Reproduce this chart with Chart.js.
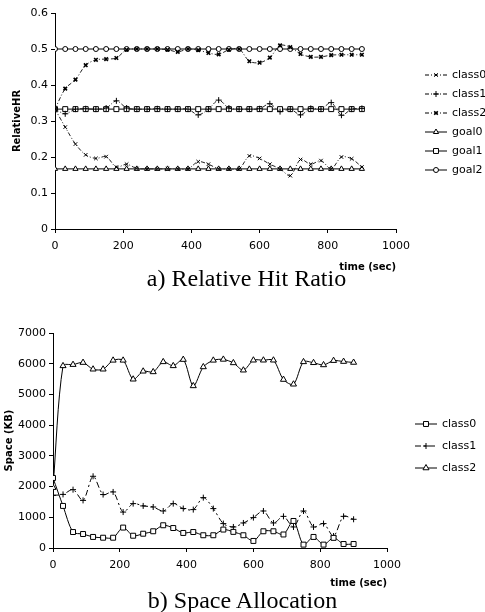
<!DOCTYPE html>
<html>
<head>
<meta charset="utf-8">
<script src="https://cdn.jsdelivr.net/npm/chart.js@4/dist/chart.umd.min.js"></script>
<style>
  body { margin: 0; background: #fff; width: 485px; height: 612px; position: relative; overflow: hidden; }
  canvas { position: absolute; left: 0; }
  .cap { position: absolute; left: 0; width: 485px; text-align: center; color: #000;
         font-family: "Liberation Serif", "Times New Roman", serif; font-size: 24px; line-height: 24px; }
</style>
</head>
<body>
<canvas id="hitChart" width="485" height="275" style="top:0"></canvas>
<div class="cap" style="top:266px; padding-left:4px">a) Relative Hit Ratio</div>
<canvas id="spaceChart" width="485" height="291" style="top:300px"></canvas>
<div class="cap" style="top:588px">b) Space Allocation</div>

<script>
// sampling times (sec), shared by both charts
const times = [0, 30, 60, 90, 120, 150, 180, 210, 240, 270, 300, 330, 360, 390, 420, 450,
  480, 510, 540, 570, 600, 630, 660, 690, 720, 750, 780, 810, 840, 870, 900];

// a) relative hit ratio
const hitClass0 = [0.333, 0.283, 0.236, 0.206, 0.196, 0.201, 0.172, 0.180, 0.168, 0.167, 0.167,
  0.167, 0.167, 0.167, 0.187, 0.180, 0.167, 0.167, 0.167, 0.203, 0.196, 0.180, 0.167, 0.148,
  0.193, 0.180, 0.190, 0.167, 0.200, 0.195, 0.172];
const hitClass1 = [0.333, 0.320, 0.333, 0.334, 0.333, 0.336, 0.356, 0.336, 0.333, 0.333, 0.334,
  0.333, 0.333, 0.333, 0.317, 0.333, 0.358, 0.336, 0.333, 0.333, 0.334, 0.348, 0.326, 0.333,
  0.317, 0.335, 0.333, 0.351, 0.316, 0.333, 0.335];
const hitClass2 = [0.333, 0.390, 0.415, 0.455, 0.470, 0.472, 0.475, 0.498, 0.500, 0.500, 0.500,
  0.498, 0.492, 0.500, 0.497, 0.489, 0.485, 0.498, 0.500, 0.466, 0.462, 0.476, 0.510, 0.505,
  0.486, 0.478, 0.478, 0.483, 0.484, 0.484, 0.484];
const hitGoal0 = [0.167, 0.167, 0.167, 0.167, 0.167, 0.167, 0.167, 0.167, 0.167, 0.167, 0.167,
  0.167, 0.167, 0.167, 0.167, 0.167, 0.167, 0.167, 0.167, 0.167, 0.167, 0.167, 0.167, 0.167,
  0.167, 0.167, 0.167, 0.167, 0.167, 0.167, 0.167];
const hitGoal1 = [0.333, 0.333, 0.333, 0.333, 0.333, 0.333, 0.333, 0.333, 0.333, 0.333, 0.333,
  0.333, 0.333, 0.333, 0.333, 0.333, 0.333, 0.333, 0.333, 0.333, 0.333, 0.333, 0.333, 0.333,
  0.333, 0.333, 0.333, 0.333, 0.333, 0.333, 0.333];
const hitGoal2 = [0.5, 0.5, 0.5, 0.5, 0.5, 0.5, 0.5, 0.5, 0.5, 0.5, 0.5, 0.5, 0.5, 0.5, 0.5, 0.5,
  0.5, 0.5, 0.5, 0.5, 0.5, 0.5, 0.5, 0.5, 0.5, 0.5, 0.5, 0.5, 0.5, 0.5, 0.5];

// b) space allocation (KB)
const spaceClass0 = [2280, 1370, 520, 455, 360, 335, 335, 665, 400, 465, 545, 740, 650, 490, 520,
  415, 415, 600, 525, 415, 230, 545, 545, 440, 880, 110, 360, 110, 330, 130, 130];
const spaceClass1 = [1715, 1745, 1900, 1550, 2335, 1740, 1825, 1170, 1445, 1370, 1335, 1205, 1445,
  1285, 1250, 1640, 1283, 795, 685, 815, 990, 1205, 815, 1030, 685, 1205, 685, 795, 390, 1030, 935];
const spaceClass2 = [1965, 5930, 5970, 6037, 5820, 5820, 6110, 6110, 5494, 5754, 5733, 6060, 5930,
  6135, 5277, 5895, 6110, 6140, 6026, 5788, 6113, 6113, 6113, 5485, 5331, 6060, 6030, 5960, 6100,
  6070, 6040];

const FONT = '"DejaVu Sans", sans-serif';

function pts(arr) {
  return times.map((t, i) => ({ x: t, y: arr[i] }));
}

function serie(label, arr, style, radius, dash, extra) {
  return Object.assign({
    label: label,
    data: pts(arr),
    borderColor: '#000',
    borderWidth: 1,
    borderDash: dash,
    pointStyle: style,
    pointRadius: radius,
    pointBorderWidth: 1,
    pointBorderColor: '#000',
    pointBackgroundColor: '#fff',
    tension: 0.3,
    fill: false
  }, extra || {});
}

// legend drawn as "line + marker + label", like the original
const lineLegend = {
  id: 'lineLegend',
  afterDraw(chart, args, opts) {
    const ctx = chart.ctx;
    ctx.save();
    chart.data.datasets.forEach((ds, i) => {
      const x = opts.x, y = opts.y + i * opts.gap;
      ctx.strokeStyle = '#000';
      ctx.lineWidth = 1;
      ctx.setLineDash(ds.borderDash || []);
      ctx.beginPath();
      ctx.moveTo(x, y);
      ctx.lineTo(x + 22, y);
      ctx.stroke();
      ctx.setLineDash([]);
      ctx.fillStyle = '#fff';
      ctx.lineWidth = ds.pointBorderWidth;
      Chart.helpers.drawPoint(ctx, {
        pointStyle: ds.pointStyle, radius: ds.pointRadius, rotation: 0, borderWidth: ds.pointBorderWidth
      }, x + 11, y);
      ctx.fillStyle = '#000';
      ctx.font = '11px ' + FONT;
      ctx.textBaseline = 'middle';
      ctx.textAlign = 'left';
      ctx.fillText(ds.label, x + 27, y);
    });
    ctx.restore();
  }
};

function axes(yMax, yStep, yDigits, yTitle, yWidth, yTitlePad, xHeight) {
  const tickFont = { family: FONT, size: 11 };
  return {
    x: {
      type: 'linear', min: 0, max: 1000,
      ticks: { stepSize: 200, font: tickFont, color: '#000', padding: 7, callback: v => String(v) },
      grid: { drawOnChartArea: false, drawTicks: true, tickLength: 4, color: '#000' },
      border: { color: '#000', width: 1 },
      title: { display: true, text: 'time (sec)', align: 'end', color: '#000',
               font: { family: FONT, size: 10, weight: 'bold' }, padding: { top: 0, bottom: 2 } },
      afterFit: s => { s.height = xHeight; }
    },
    y: {
      min: 0, max: yMax,
      ticks: { stepSize: yStep, font: tickFont, color: '#000', padding: 3,
               callback: v => String(parseFloat(v.toFixed(yDigits))) },
      grid: { drawOnChartArea: false, drawTicks: true, tickLength: 4, color: '#000' },
      border: { color: '#000', width: 1 },
      title: { display: true, text: yTitle, color: '#000',
               font: { family: FONT, size: 10, weight: 'bold' }, padding: { top: yTitlePad, bottom: 0 } },
      afterFit: s => { s.width = yWidth; }
    }
  };
}

const classDash = [4, 2, 1, 2];

new Chart(document.querySelector('#hitChart').getContext('2d'), {
  type: 'line',
  data: {
    datasets: [
      serie('class0', hitClass0, 'crossRot', 2.5, classDash, { borderColor: '#222' }),
      serie('class1', hitClass1, 'cross', 3, classDash, { borderColor: '#222' }),
      serie('class2', hitClass2, 'crossRot', 2.5, classDash, { borderColor: '#222', pointBorderWidth: 1.6 }),
      serie('goal0', hitGoal0, 'triangle', 3, [], { tension: 0 }),
      serie('goal1', hitGoal1, 'rect', 3.5, [], { tension: 0 }),
      serie('goal2', hitGoal2, 'circle', 2.5, [], { tension: 0 })
    ]
  },
  options: {
    responsive: false,
    animation: false,
    layout: { padding: { top: 13, right: 89, left: 0, bottom: 0 } },
    plugins: {
      legend: { display: false },
      tooltip: { enabled: false },
      lineLegend: { x: 425, y: 75, gap: 19 }
    },
    scales: axes(0.6, 0.1, 1, 'RelativeHR', 55, 11, 46)
  },
  plugins: [lineLegend]
});

new Chart(document.querySelector('#spaceChart').getContext('2d'), {
  type: 'line',
  data: {
    datasets: [
      serie('class0', spaceClass0, 'rect', 3.5, []),
      serie('class1', spaceClass1, 'cross', 3, [6, 3, 2, 3]),
      serie('class2', spaceClass2, 'triangle', 3.5, [])
    ]
  },
  options: {
    responsive: false,
    animation: false,
    layout: { padding: { top: 33, right: 98, left: 0, bottom: 0 } },
    plugins: {
      legend: { display: false },
      tooltip: { enabled: false },
      lineLegend: { x: 415, y: 124, gap: 22 }
    },
    scales: axes(7000, 1000, 0, 'Space (KB)', 53, 3, 43)
  },
  plugins: [lineLegend]
});
</script>
</body>
</html>
